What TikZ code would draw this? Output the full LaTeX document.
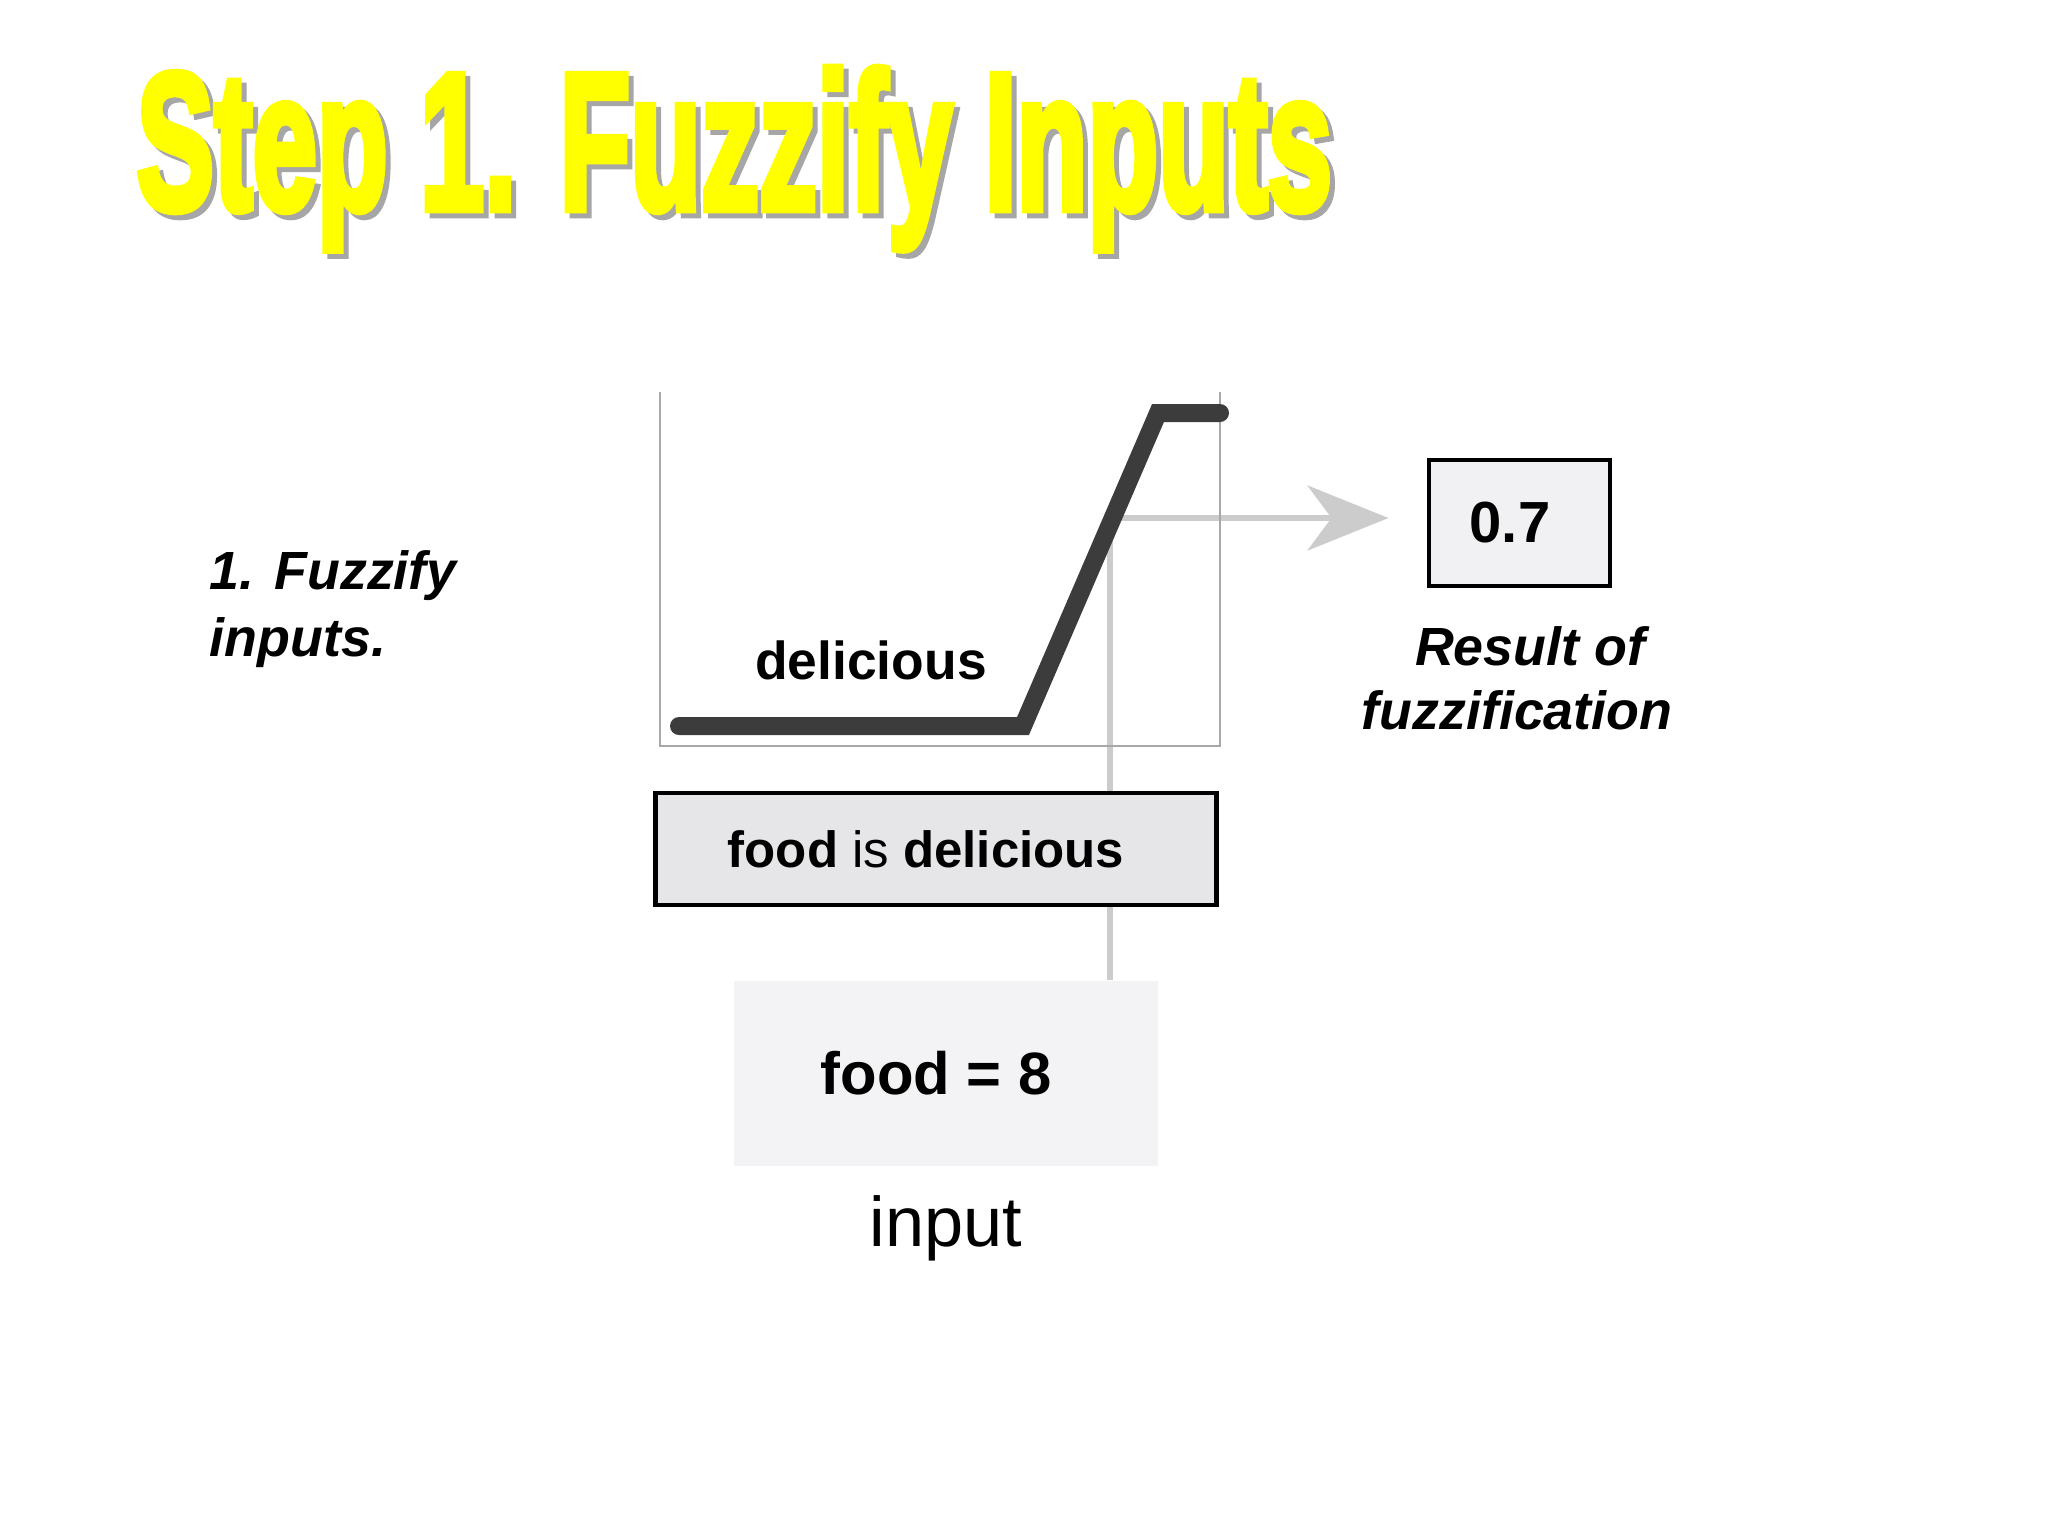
\documentclass[tikz,border=0pt]{standalone}
\usepackage{fontspec}
\setmainfont{Liberation Sans}
\newfontfamily\titlefont{Liberation Sans Bold}[FakeBold=4.5]
\usetikzlibrary{arrows.meta}
\pgfdeclarelayer{background}
\pgfsetlayers{background,main}
\definecolor{curvegray}{HTML}{3C3C3C}
\definecolor{framegray}{HTML}{A8A8A8}
\definecolor{conngray}{HTML}{CCCCCC}
\definecolor{boxfillA}{HTML}{F1F1F3}
\definecolor{boxfillB}{HTML}{E6E6E8}
\definecolor{boxfillC}{HTML}{F3F3F5}
\definecolor{titleyellow}{HTML}{FFFF00}
\definecolor{titleshadow}{HTML}{A6A6A6}
\begin{document}
\begin{tikzpicture}[x=0.1mm,y=-0.1mm,
  lbl/.style={inner sep=0pt, font=\fontsize{15.3}{18.5}\selectfont},
  valbox/.style={draw=black, line width=1.15pt, inner sep=0pt},
  curvepath/.style={draw=curvegray, line width=1.8mm, line cap=round, line join=miter},
  framepath/.style={draw=framegray, line width=0.2mm},
  conn/.style={draw=conngray, line width=0.55mm},
  titletext/.style={anchor=base west, inner sep=0pt}
]
\useasboundingbox (0,0) rectangle (2048,1536);

% title
\node[titletext, text=titleshadow] (tshadow) at (141,214)
  {\resizebox{119.5mm}{14.1mm}{\titlefont Step 1. Fuzzify Inputs}};
\node[titletext, text=titleyellow] (title) at (136,209)
  {\resizebox{119.5mm}{14.1mm}{\titlefont Step 1. Fuzzify Inputs}};

% left label
\node[lbl, anchor=west, align=left, font=\fontsize{15.3}{19}\selectfont\bfseries\itshape] (step) at (209,609) {1. Fuzzify\\inputs.};

% membership graph
\draw[framepath] (660,392) -- (660,746) -- (1220,746) -- (1220,392);
\node[lbl, font=\fontsize{15.2}{18}\selectfont\bfseries] (mf) at (871,660) {delicious};

% boxes
\node[valbox, fill=boxfillA, minimum width=18.1mm, minimum height=12.6mm,
      font=\fontsize{16.5}{20}\selectfont\bfseries] (res) at (1519,523) {0.7\kern1.8mm};
\node[lbl, align=center, font=\fontsize{15.3}{18.3}\selectfont\bfseries\itshape] (reslbl) at (1517,678) {\hspace*{2.6mm}Result of\\fuzzification};
\node[valbox, fill=boxfillB, minimum width=56.1mm, minimum height=11.2mm,
      font=\fontsize{14.5}{18}\selectfont] (rule) at (936,849) {\textbf{food} is \textbf{delicious}\kern2mm};
\node[inner sep=0pt, fill=boxfillC, minimum width=42.4mm, minimum height=18.5mm,
      font=\fontsize{17}{20}\selectfont\bfseries] (in) at (946,1073) {food = 8\kern2mm};
\node[lbl, font=\fontsize{20}{24}\selectfont] (inlbl) at (946,1228) {input};

\coordinate (knee) at (1110,518);

\begin{pgfonlayer}{background}
\draw[conn, -{Stealth[length=8.1mm, width=6.5mm, inset=2.4mm, fill=conngray]}, shorten >=3.8mm]
  (knee |- in.north) -- (knee) -- (res.west |- knee);
\end{pgfonlayer}

% membership curve on top
\draw[curvepath] (679,726) -- (1023,726) -- (1158,413) -- (1220,413);
\end{tikzpicture}
\end{document}
